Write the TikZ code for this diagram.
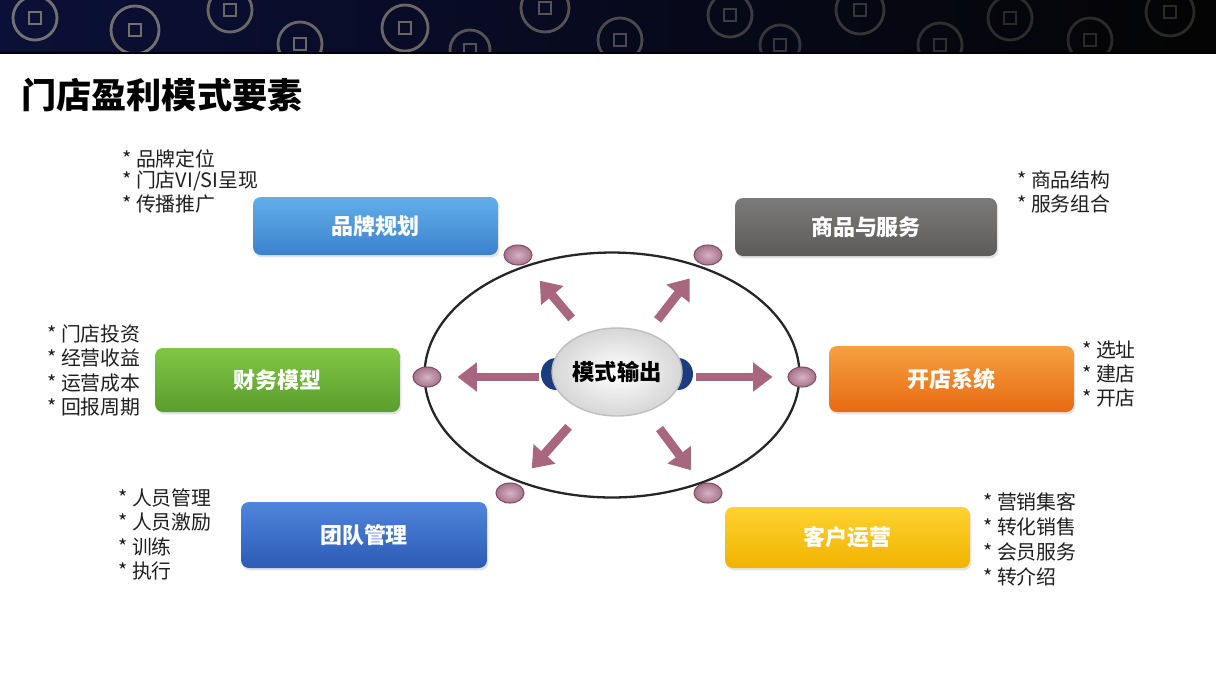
\documentclass[tikz,border=0pt]{standalone}
\usepackage{fontspec}
\setmainfont{Noto Sans CJK SC}
\usetikzlibrary{shapes.geometric,arrows.meta,shadows}
\definecolor{bannerL}{HTML}{0B1038}
\definecolor{bannerR}{HTML}{040404}
\definecolor{coin}{HTML}{C9C1A2}
\definecolor{brandT}{HTML}{62AEEA}
\definecolor{brandB}{HTML}{3B82CE}
\definecolor{goodsT}{HTML}{7C7B7A}
\definecolor{goodsB}{HTML}{5C5B5A}
\definecolor{finT}{HTML}{80C646}
\definecolor{finB}{HTML}{5A9E2C}
\definecolor{openT}{HTML}{F6A042}
\definecolor{openB}{HTML}{E86A12}
\definecolor{teamT}{HTML}{4F86DA}
\definecolor{teamB}{HTML}{2C5BB6}
\definecolor{custT}{HTML}{FDD330}
\definecolor{custB}{HTML}{F2B300}
\definecolor{dotc}{HTML}{B9809A}
\definecolor{dotborder}{HTML}{7E5066}
\definecolor{arrowc}{HTML}{A8677F}
\definecolor{capblue}{HTML}{1B3C7E}
\begin{document}
\begin{tikzpicture}[x=0.02cm,y=-0.02cm,
  box/.style={rectangle, rounded corners=4.5pt, inner sep=0pt,
    font=\fontsize{12.5}{15}\selectfont\bfseries, text=white,
    drop shadow={opacity=0.22, shadow xshift=0.8pt, shadow yshift=-1.4pt}},
  item/.style={anchor=west, inner sep=0pt, font=\fontsize{11.3}{13}\selectfont, text=black!88},
  dot/.style={ellipse, minimum width=0.56cm, minimum height=0.4cm, inner sep=0pt,
    draw=dotborder, line width=0.6pt, inner color=dotc!60!white, outer color=dotc!90!black},
  bigarrow/.style={line width=5pt, draw=arrowc, -{Triangle[width=16pt,length=11pt]}},
  coinring/.style={draw=coin, line width=1.6pt}
]
\useasboundingbox (0,0) rectangle (1216,684);
\fill[white] (0,0) rectangle (1216,684);
% banner
\shade[left color=bannerL, right color=bannerR] (0,0) rectangle (1216,53);
\begin{scope}
\clip (0,0) rectangle (1216,52);
\foreach \cx/\cy/\r/\o in {35/18/22/0.55, 135/30/24/0.55, 230/10/22/0.5, 300/44/22/0.5, 405/28/23/0.5,
  470/50/20/0.4, 545/8/24/0.4, 620/40/22/0.35, 730/15/22/0.28, 780/45/20/0.25, 860/10/24/0.25,
  940/45/22/0.22, 1010/18/22/0.2, 1090/40/22/0.2, 1170/12/24/0.2}
  {\draw[coinring, opacity=\o] (\cx,\cy) circle (\r);
   \draw[coinring, opacity=\o, line width=1.2pt] (\cx-6,\cy-6) rectangle (\cx+6,\cy+6);}
\end{scope}
\draw[black, line width=1pt] (0,53) -- (1216,53);
% title
\node[anchor=west, inner sep=0pt, font=\fontsize{20}{24}\selectfont\bfseries] (title) at (21,95) {门店盈利模式要素};
% ring
\node[ellipse, draw=black!85, line width=1.3pt, minimum width=7.5cm, minimum height=4.9cm, inner sep=0pt] (ring) at (612,375) {};
% dots
\node[dot] (dUL) at (518,255) {};
\node[dot] (dUR) at (708,255) {};
\node[dot] (dL) at (427,377) {};
\node[dot] (dR) at (802,377) {};
\node[dot] (dDL) at (510,493) {};
\node[dot] (dDR) at (708,493) {};
% centre
\node[ellipse, fill=capblue, minimum width=0.6cm, minimum height=0.64cm, inner sep=0pt] (capL) at (556,374) {};
\node[ellipse, fill=capblue, minimum width=0.6cm, minimum height=0.64cm, inner sep=0pt] (capR) at (678,374) {};
\node[ellipse, minimum width=2.6cm, minimum height=1.76cm, inner sep=0pt, draw=gray!50, line width=0.8pt,
  inner color=white, outer color=gray!32, font=\fontsize{12.7}{15}\selectfont\bfseries] (core) at (617,372) {模式输出};
% arrows
\draw[bigarrow, shorten <=0.24cm, shorten >=0.32cm] (dL -| core.west) -- (dL);
\draw[bigarrow, shorten <=0.26cm, shorten >=0.3cm] (dR -| core.east) -- (dR);
\draw[bigarrow, shorten <=0.39cm, shorten >=0.44cm] (core) -- (dUL);
\draw[bigarrow, shorten <=0.32cm, shorten >=0.36cm] (core) -- (dUR);
\draw[bigarrow, shorten <=0.44cm, shorten >=0.42cm] (core) -- (dDL);
\draw[bigarrow, shorten <=0.42cm, shorten >=0.34cm] (core) -- (dDR);
% boxes
\node[box, top color=brandT, bottom color=brandB, minimum width=4.9cm, minimum height=1.16cm] (brand) at (375.5,226) {品牌规划};
\node[box, top color=goodsT, bottom color=goodsB, minimum width=5.24cm, minimum height=1.16cm] (goods) at (866,227) {商品与服务};
\node[box, top color=finT, bottom color=finB, minimum width=4.9cm, minimum height=1.28cm] (fin) at (277.5,380) {财务模型};
\node[box, top color=openT, bottom color=openB, minimum width=4.9cm, minimum height=1.32cm] (open) at (951.5,379) {开店系统};
\node[box, top color=teamT, bottom color=teamB, minimum width=4.92cm, minimum height=1.32cm] (team) at (364,535) {团队管理};
\node[box, top color=custT, bottom color=custB, minimum width=4.9cm, minimum height=1.22cm] (cust) at (847.5,537.5) {客户运营};
% lists
\node[item] (b1) at (122,159) {* 品牌定位};
\node[item] (b2) at (122,181) {* 门店VI/SI呈现};
\node[item] (b3) at (122,204) {* 传播推广};
\node[item] (g1) at (1017,180) {* 商品结构};
\node[item] (g2) at (1017,204) {* 服务组合};
\node[item] (f1) at (47,334) {* 门店投资};
\node[item] (f2) at (47,358) {* 经营收益};
\node[item] (f3) at (47,383) {* 运营成本};
\node[item] (f4) at (47,407) {* 回报周期};
\node[item] (o1) at (1082,350) {* 选址};
\node[item] (o2) at (1082,374) {* 建店};
\node[item] (o3) at (1082,398) {* 开店};
\node[item] (t1) at (118,498) {* 人员管理};
\node[item] (t2) at (118,522) {* 人员激励};
\node[item] (t3) at (118,547) {* 训练};
\node[item] (t4) at (118,571) {* 执行};
\node[item] (c1) at (983,502) {* 营销集客};
\node[item] (c2) at (983,527) {* 转化销售};
\node[item] (c3) at (983,552) {* 会员服务};
\node[item] (c4) at (983,577) {* 转介绍};
\end{tikzpicture}
\end{document}
